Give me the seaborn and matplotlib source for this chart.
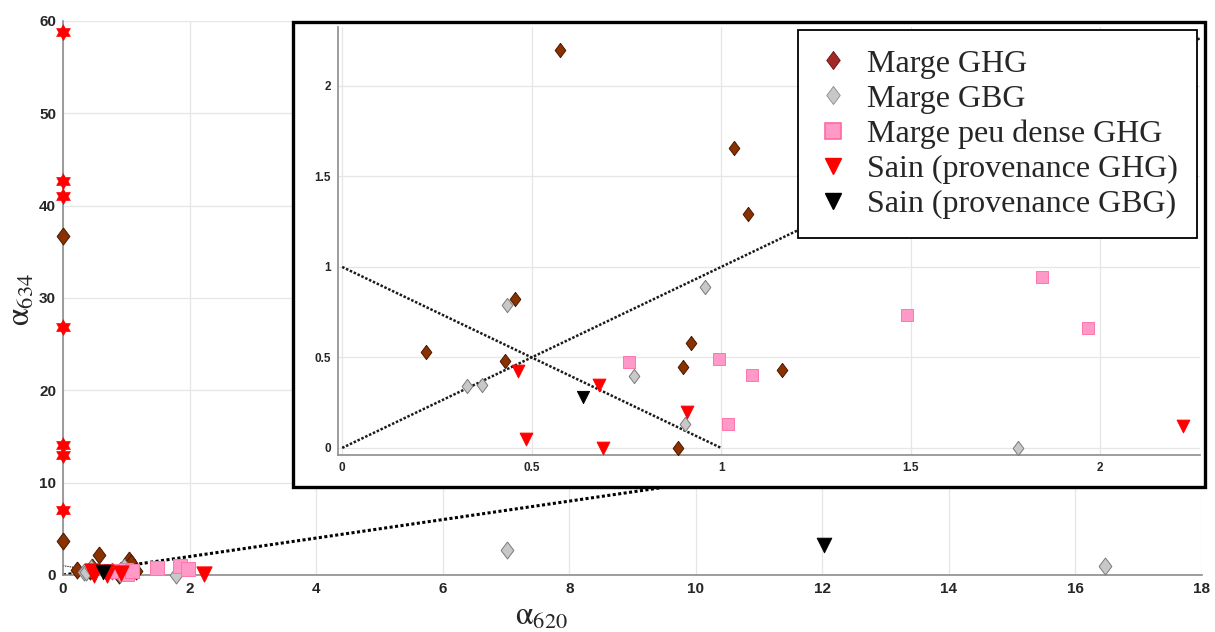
import numpy as np
import matplotlib
matplotlib.use('Agg')
import matplotlib.pyplot as plt
from matplotlib.lines import Line2D
from matplotlib.markers import MarkerStyle
from matplotlib.patches import Rectangle
from matplotlib.ticker import FuncFormatter
import seaborn as sns

# ---- data (alpha_620, alpha_634) ----
# Marge GHG (brown diamonds)
ghg_x = [0.0, 0.0, 0.22, 0.43, 0.455, 0.575, 0.885, 0.90, 0.92, 1.035, 1.07, 1.16]
ghg_y = [36.7, 3.7, 0.53, 0.48, 0.825, 2.20, 0.0, 0.445, 0.58, 1.66, 1.29, 0.43]
# Marge GBG (grey diamonds)
gbg_x = [0.33, 0.37, 0.435, 0.77, 0.905, 0.958, 1.783, 7.01, 16.46]
gbg_y = [0.34, 0.345, 0.79, 0.395, 0.13, 0.89, 0.0, 2.7, 1.0]
# Marge peu dense GHG (pink squares)
pink_x = [0.758, 0.995, 1.017, 1.082, 1.49, 1.846, 1.968]
pink_y = [0.475, 0.49, 0.13, 0.405, 0.735, 0.945, 0.665]
# Sain (provenance GHG) (red triangles)
red_x = [0.465, 0.486, 0.677, 0.688, 0.911, 2.22]
red_y = [0.425, 0.05, 0.35, 0.0, 0.2, 0.12]
# Sain (provenance GBG) (black triangles)
black_x = [0.635, 12.03]
black_y = [0.28, 3.25]
# points with alpha_620 = 0 (red stars, not in legend)
star_x = [0, 0, 0, 0, 0, 0, 0]
star_y = [58.8, 42.7, 41.0, 26.9, 14.1, 13.0, 7.0]

# reference lines
diag_x = [0, 18]
diag_y = [0, 18]
anti_x = [0, 1]
anti_y = [1, 0]

LABELS = ['Marge GHG', 'Marge GBG', 'Marge peu dense GHG',
          'Sain (provenance GHG)', 'Sain (provenance GBG)']

# marker shapes
DIAMOND = MarkerStyle([(0, 1), (0.75, 0), (0, -1), (-0.75, 0), (0, 1)])
ang = np.deg2rad(90 + 30 * np.arange(12))
rad = np.where(np.arange(12) % 2 == 0, 1.0, 0.577)
HEXAGRAM = MarkerStyle(list(zip(rad * np.cos(ang), rad * np.sin(ang))))

BROWN = '#8a3100'
GREY = '#c8c8c8'
PINK = '#ff99c8'
RED = '#ff0000'

sns.set_style('white')
plt.rcParams['font.family'] = ['Liberation Sans', 'DejaVu Sans']
plt.rcParams['mathtext.fontset'] = 'stix'

fig = plt.figure(figsize=(12.15, 6.32), dpi=100)


def style_axis(axis, size, tlen):
    for side in ['top', 'right']:
        axis.spines[side].set_visible(False)
    for side in ['left', 'bottom']:
        axis.spines[side].set_color('#8c8c8c')
        axis.spines[side].set_linewidth(1.2)
    axis.grid(True, color='#e6e6e6', linewidth=0.9)
    axis.set_axisbelow(True)
    axis.tick_params(direction='in', length=tlen, width=1, color='#8c8c8c',
                     labelsize=size, labelcolor='#262626', pad=5)
    for lab in axis.get_xticklabels() + axis.get_yticklabels():
        lab.set_fontweight('bold')


def draw_points(axis, scale, clip):
    groups = [
        (ghg_x, ghg_y, DIAMOND, BROWN, '#4a1800', 150),
        (gbg_x, gbg_y, DIAMOND, GREY, '#7a7a7a', 150),
        (pink_x, pink_y, 's', PINK, '#ff75aa', 95),
        (red_x, red_y, 'v', RED, RED, 120),
        (black_x, black_y, 'v', 'black', 'black', 110),
    ]
    for xs, ys, m, fc, ec, s in groups:
        sns.scatterplot(x=xs, y=ys, ax=axis, marker=m, color=fc, edgecolor=ec,
                        s=s * scale, linewidth=0.7, clip_on=clip, zorder=3,
                        legend=False)


# ---- main axes ----
ax = fig.add_axes([0.0519, 0.0902, 0.9374, 0.8766])
ax.set_zorder(1)
ax.plot(diag_x, diag_y, color='black', linestyle=(0, (1, 0.8)), linewidth=2.2, zorder=2)
ax.plot(anti_x, anti_y, color='black', linestyle=(0, (1, 1)), linewidth=0.8, zorder=2)
sns.scatterplot(x=star_x, y=star_y, ax=ax, marker=HEXAGRAM, color=RED,
                edgecolor=RED, s=130, linewidth=0.5, clip_on=False, zorder=3,
                legend=False)
draw_points(ax, 1.0, False)
ax.set_xlim(0, 18)
ax.set_ylim(0, 60)
ax.set_xticks(np.arange(0, 19, 2))
ax.set_yticks(np.arange(0, 61, 10))
style_axis(ax, 11, 8)
ax.set_xlabel(r'$\mathrm{\alpha}_{620}$', fontsize=23)
ax.set_ylabel(r'$\mathrm{\alpha}_{634}$', fontsize=23)
ax.xaxis.set_label_coords(0.42, -0.075)
ax.xaxis.label.set_verticalalignment('center')
ax.yaxis.set_label_coords(-0.036, 0.497)
ax.yaxis.label.set_verticalalignment('center')

# ---- inset frame ----
frame = Rectangle((0.2412, 0.2294), 0.7506, 0.7358, transform=fig.transFigure,
                  facecolor='white', edgecolor='black', linewidth=2.4, zorder=2)
fig.add_artist(frame)

# ---- inset axes (zoom near origin) ----
axi = fig.add_axes([0.2782, 0.2801, 0.7095, 0.6772])
axi.set_zorder(3)
axi.set_facecolor('white')
axi.plot(diag_x, diag_y, color='#1a1a1a', linestyle=(0, (1, 0.7)), linewidth=1.8, zorder=2)
axi.plot(anti_x, anti_y, color='#1a1a1a', linestyle=(0, (1, 0.7)), linewidth=1.8, zorder=2)
draw_points(axi, 0.7, True)
axi.set_xlim(-0.011, 2.264)
axi.set_ylim(-0.039, 2.326)
axi.set_xticks([0, 0.5, 1, 1.5, 2])
axi.set_yticks([0, 0.5, 1, 1.5, 2])
fmt = FuncFormatter(lambda v, p: f'{v:g}')
axi.xaxis.set_major_formatter(fmt)
axi.yaxis.set_major_formatter(fmt)
style_axis(axi, 8.5, 5)

# ---- legend ----
handles = [
    Line2D([], [], linestyle='none', marker=DIAMOND, markersize=13,
           markerfacecolor='#a52828', markeredgecolor='#6a1010', markeredgewidth=0.6),
    Line2D([], [], linestyle='none', marker=DIAMOND, markersize=13,
           markerfacecolor=GREY, markeredgecolor='#8a8a8a', markeredgewidth=0.6),
    Line2D([], [], linestyle='none', marker='s', markersize=12,
           markerfacecolor=PINK, markeredgecolor='#ff6a9e', markeredgewidth=1.2),
    Line2D([], [], linestyle='none', marker='v', markersize=12,
           markerfacecolor=RED, markeredgecolor=RED),
    Line2D([], [], linestyle='none', marker='v', markersize=11,
           markerfacecolor='black', markeredgecolor='black'),
]
leg = fig.legend(handles, LABELS, loc='upper right',
                 bbox_to_anchor=(0.9852, 0.9525), frameon=True, fancybox=False,
                 edgecolor='black', framealpha=1, borderaxespad=0,
                 prop={'family': 'Liberation Serif', 'size': 23},
                 handlelength=1.0, handletextpad=0.55, labelspacing=0.18,
                 borderpad=0.6)
leg.get_frame().set_linewidth(1.3)
leg.set_zorder(10)

fig.savefig('out.png', dpi=100)
